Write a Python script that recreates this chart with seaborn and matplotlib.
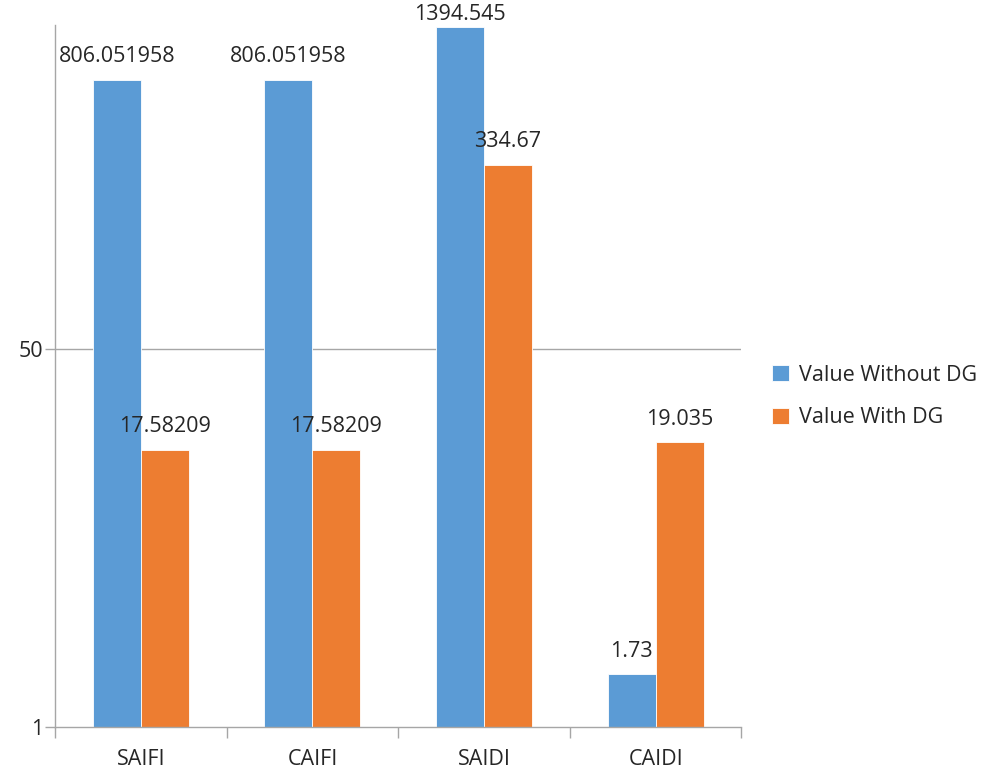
import matplotlib
matplotlib.use("Agg")
import matplotlib.pyplot as plt
import seaborn as sns
import pandas as pd
from matplotlib.ticker import FixedLocator, NullLocator, NullFormatter

categories = ["SAIFI", "CAIFI", "SAIDI", "CAIDI"]
without_dg = [806.051958, 806.051958, 1394.545, 1.73]
with_dg = [17.58209, 17.58209, 334.67, 19.035]
without_labels = ["806.051958", "806.051958", "1394.545", "1.73"]
with_labels = ["17.58209", "17.58209", "334.67", "19.035"]
series_names = ["Value Without DG", "Value With DG"]
y_ticks = [1, 50]

df = pd.DataFrame({
    "category": categories * 2,
    "value": without_dg + with_dg,
    "series": [series_names[0]] * 4 + [series_names[1]] * 4,
})

sns.set_theme(style="white")
plt.rcParams["font.family"] = ["Open Sans", "DejaVu Sans"]
text_color = "#262626"
grid_color = "#A6A6A6"

fig = plt.figure(figsize=(9.82, 7.7), dpi=100)
ax = fig.add_axes([0.056, 0.0558, 0.699, 0.9117])

sns.barplot(data=df, x="category", y="value", hue="series", order=categories,
            hue_order=series_names, palette=["#5B9BD5", "#ED7D31"],
            width=0.56, saturation=1, edgecolor="white", linewidth=0.6,
            ax=ax, legend=True)

ax.set_yscale("log", base=50)
ax.set_ylim(1, 1420)
ax.set_xlim(-0.5, 3.5)
ax.yaxis.set_major_locator(FixedLocator(y_ticks))
ax.yaxis.set_minor_locator(NullLocator())
ax.yaxis.set_minor_formatter(NullFormatter())
ax.set_yticklabels([str(t) for t in y_ticks])
ax.axhline(50, color=grid_color, lw=1, zorder=0)

ax.set_xlabel("")
ax.set_ylabel("")
for s in ["top", "right"]:
    ax.spines[s].set_visible(False)
for s in ["left", "bottom"]:
    ax.spines[s].set_color(grid_color)
    ax.spines[s].set_linewidth(1)

ax.tick_params(axis="y", which="major", length=7, color=grid_color, width=1,
               labelsize=15.5, labelcolor=text_color, pad=1.5, left=True)
ax.set_xticks([-0.5, 0.5, 1.5, 2.5, 3.5], minor=True)
ax.tick_params(axis="x", which="minor", length=8, color=grid_color, width=1,
               bottom=True)
ax.tick_params(axis="x", which="major", length=0, labelsize=15.5,
               labelcolor=text_color, pad=16)

# value labels above each bar
top_value = max(without_dg + with_dg)
for container, labels in zip(ax.containers, [without_labels, with_labels]):
    for bar, lab in zip(container, labels):
        h = bar.get_height()
        off = 1 if h == top_value else 9
        ax.annotate(lab, (bar.get_x() + bar.get_width() / 2, h),
                    xytext=(0, off), textcoords="offset points",
                    ha="center", va="bottom", fontsize=15.5, color=text_color,
                    annotation_clip=False)

leg = ax.legend(loc="center left", bbox_to_anchor=(1.017, 0.471), frameon=False,
                fontsize=15.5, handlelength=0.75, handleheight=0.75,
                handletextpad=0.5, labelspacing=1.0)
for t in leg.get_texts():
    t.set_color(text_color)

fig.savefig("out.png", dpi=100)
